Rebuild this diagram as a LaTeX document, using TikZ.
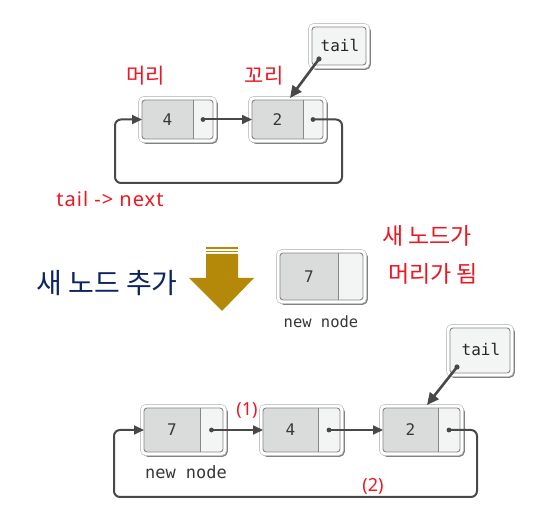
\documentclass[tikz,border=0pt]{standalone}
\usepackage{fontspec}
\setmainfont{Noto Sans}
\newfontfamily\krfont{Noto Sans CJK KR}
\newfontfamily\monofont{DejaVu Sans Mono}
\newfontfamily\widefont[LetterSpace=5]{Noto Sans}
\usetikzlibrary{arrows.meta,calc}
\definecolor{redt}{RGB}{238,22,32}
\definecolor{navyt}{RGB}{12,36,96}
\definecolor{goldc}{RGB}{180,136,8}
\definecolor{datafill}{RGB}{218,220,220}
\definecolor{ptrfill}{RGB}{243,245,245}
\definecolor{boxline}{RGB}{135,135,135}
\definecolor{ringc}{RGB}{200,200,200}
\definecolor{shadowc}{RGB}{130,130,130}
\definecolor{linec}{RGB}{72,72,72}
\definecolor{graytext}{RGB}{55,55,55}
\tikzset{
  numtext/.style={inner sep=0pt,outer sep=0pt,font=\monofont\fontsize{16}{19}\selectfont,text=graytext},
  ptrarrow/.style={draw=linec,line width=2pt,-{Triangle[length=10pt,width=9pt]}},
  tailarrow/.style={draw=linec,line width=2.6pt,-{Triangle[length=12pt,width=11pt]}},
  redlabel/.style={text=redt,inner sep=0pt,font=\krfont\fontsize{21}{25}\selectfont},
  caption/.style={text=graytext,inner sep=0pt,font=\monofont\fontsize{16}{19}\selectfont},
}
% name, x1, y1, x2, y2, xdiv, label
\newcommand\llbox[7]{%
  \fill[shadowc,rounded corners=5] (#2-1.5,#3-1.5) rectangle (#4+4.8,#5+4.8);
  \filldraw[fill=white,draw=ringc,line width=0.6pt,rounded corners=5] (#2-3.5,#3-3.5) rectangle (#4+3.5,#5+3.5);
  \begin{scope}
    \clip[rounded corners=3] (#2,#3) rectangle (#4,#5);
    \fill[ptrfill] (#2,#3) rectangle (#4,#5);
    \fill[datafill] (#2,#3) rectangle (#6,#5);
  \end{scope}
  \draw[boxline,line width=0.9pt,rounded corners=3] (#2,#3) rectangle (#4,#5);
  \draw[boxline,line width=0.9pt] (#6,#3) -- (#6,#5);
  \node[numtext,minimum width={(#6-#2)*1pt},minimum height={(#5-#3)*1pt}] (#1) at ({(#2+#6)/2},{(#3+#5)/2}) {#7};
  \coordinate (#1-p) at ({(#6+#4)/2},{(#3+#5)/2});
}
% name, x1, y1, x2, y2
\newcommand\tailbox[5]{%
  \fill[shadowc,rounded corners=5] (#2-1.5,#3-1.5) rectangle (#4+4.8,#5+4.8);
  \filldraw[fill=white,draw=ringc,line width=0.6pt,rounded corners=5] (#2-3.5,#3-3.5) rectangle (#4+3.5,#5+3.5);
  \filldraw[fill=ptrfill,draw=boxline,line width=0.9pt,rounded corners=3] (#2,#3) rectangle (#4,#5);
  \node[numtext,text=black!85] (#1) at ({(#2+#4)/2+1},{(#3+#5)/2-1}) {tail};
  \coordinate (#1-p) at (#2+7,#5-6);
}
\begin{document}
\begin{tikzpicture}[x=1pt,y=-1pt]
\useasboundingbox (0,0) rectangle (542,526);
\fill[white] (0,0) rectangle (542,526);

% ---------- top list ----------
\llbox{a4}{142}{100}{213}{139}{193}{4}
\llbox{a2}{252}{100}{323}{139}{303}{2}
\tailbox{ta}{312}{27}{366}{65}
\coordinate (tipa) at (290,98);
\node[redlabel] (head1) at (146,76) {머리};
\node[redlabel] (tail1lab) at (264,76) {꼬리};
\fill[linec] (a4-p) circle (2.4pt);
\fill[linec] (a2-p) circle (2.4pt);
\draw[ptrarrow] (a4-p) -- (a4-p -| a2.west);
\draw[ptrarrow,rounded corners=6] (a2-p) -- (342,119.5) -- (342,183) -- (115,183) -- (115,119.5) -- (a4.west);
\fill[linec] (ta-p) circle (2.6pt);
\draw[tailarrow] (ta-p) -- (tipa);
\node[text=redt,inner sep=0pt,font=\widefont\fontsize{20}{24}\selectfont] (tn) at (110,199) {tail -> next};

% ---------- middle ----------
\node[text=navyt,inner sep=0pt,font=\krfont\fontsize{28}{33}\selectfont] (add) at (107,283) {새 노드 추가};
\fill[goldc] (206,247) rectangle (238,249);
\fill[goldc] (206,250.7) rectangle (238,252.3);
\fill[goldc] (206,253.8) -- (238,253.8) -- (238,278) -- (254,278) -- (222,311) -- (189,278) -- (206,278) -- cycle;
\llbox{m7}{280}{253}{363}{300}{338}{7}
\node[caption,font=\monofont\fontsize{15.5}{18}\selectfont] (mcap) at (321,322) {new node};
\node[redlabel,font=\krfont\fontsize{23}{27}\selectfont] (l1) at (427,236) {새 노드가};
\node[redlabel,font=\krfont\fontsize{23}{27}\selectfont] (l2) at (433,274) {머리가 됨};

% ---------- bottom list ----------
\llbox{b7}{144}{408}{223}{452}{200}{7}
\llbox{b4}{263}{408}{340}{452}{318}{4}
\llbox{b2}{383}{408}{460}{452}{438}{2}
\tailbox{tb}{450}{328}{510}{373}
\coordinate (tipb) at (427,405);
\fill[linec] (b7-p) circle (2.4pt);
\fill[linec] (b4-p) circle (2.4pt);
\fill[linec] (b2-p) circle (2.4pt);
\draw[ptrarrow] (b7-p) -- (b7-p -| b4.west);
\draw[ptrarrow] (b4-p) -- (b4-p -| b2.west);
\draw[ptrarrow,rounded corners=6] (b2-p) -- (477,430) -- (477,497) -- (114,497) -- (114,430) -- (b7.west);
\fill[linec] (tb-p) circle (2.6pt);
\draw[tailarrow] (tb-p) -- (tipb);
\node[caption,font=\monofont\fontsize{17}{20}\selectfont] (bcap) at (186,472) {new node};
\node[text=redt,inner sep=0pt,font=\fontsize{18}{22}\selectfont] (one) at (247,410) {(1)};
\node[text=redt,inner sep=0pt,font=\fontsize{18}{22}\selectfont] (two) at (373,486) {(2)};
\end{tikzpicture}
\end{document}
